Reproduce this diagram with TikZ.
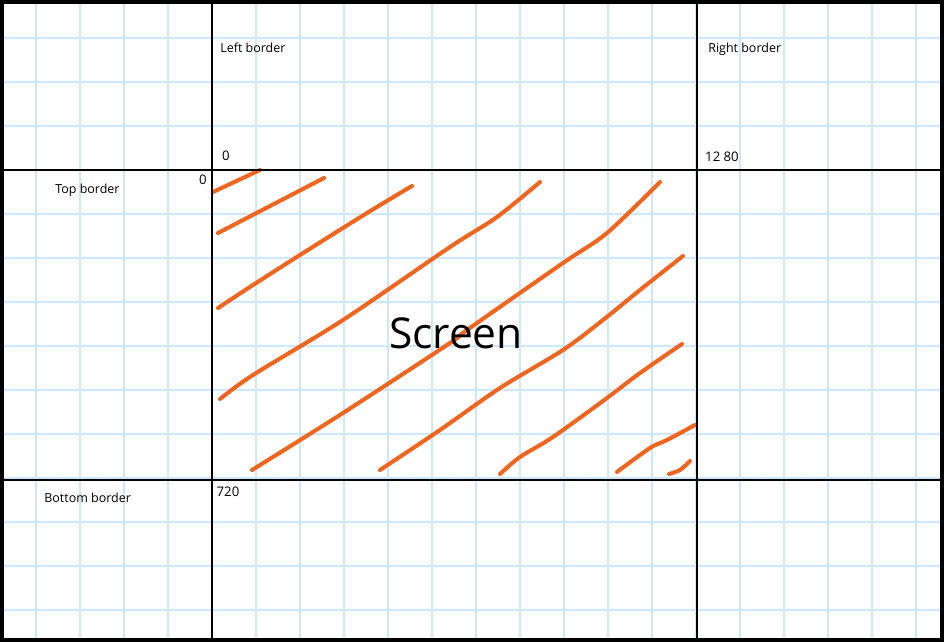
\documentclass[tikz,border=0pt]{standalone}
\usepackage{fontspec}
\setmainfont{Open Sans}
\usetikzlibrary{positioning}
\definecolor{gridblue}{RGB}{204,232,250}
\definecolor{penorange}{RGB}{242,101,30}

\begin{document}
\begin{tikzpicture}[x=0.02cm, y=-0.02cm,
  gridline/.style={draw=gridblue, line width=0.6pt},
  mainline/.style={draw=black, line width=1.7pt},
  hatch/.style={draw=penorange, line width=2.3pt, line cap=round, line join=round},
  bordertext/.style={font=\fontsize{7.1}{8}\selectfont, anchor=west, inner sep=0pt},
  digits/.style={font=\fontsize{7.5}{8}\selectfont, inner sep=0pt}
]

\useasboundingbox (0,0) rectangle (944,642);
\fill[white] (0,0) rectangle (944,642);

\foreach \x in {36,80,...,916}
  \draw[gridline] (\x,0) -- (\x,642);
\foreach \y in {38,82,...,610}
  \draw[gridline] (0,\y) -- (944,\y);

\draw[hatch] plot[smooth, tension=0.5] coordinates {(213,192) (260,170)};
\draw[hatch] plot[smooth, tension=0.5] coordinates {(218,233) (324,178)};
\draw[hatch] plot[smooth, tension=0.5] coordinates {(218,308) (253,285) (300,255) (367,213) (412,186)};
\draw[hatch] plot[smooth, tension=0.5] coordinates {(220,399) (253,375) (343,320) (450,247) (497,217) (540,182)};
\draw[hatch] plot[smooth, tension=0.5] coordinates {(252,470) (343,413) (450,343) (467,330) (563,263) (607,233) (660,182)};
\draw[hatch] plot[smooth, tension=0.5] coordinates {(380,470) (440,430) (500,388) (563,350) (603,320) (640,290) (683,256)};
\draw[hatch] plot[smooth, tension=0.5] coordinates {(500,474) (520,457) (553,437) (607,398) (640,373) (682,344)};
\draw[hatch] plot[smooth, tension=0.5] coordinates {(617,472) (650,448) (667,440) (695,425)};
\draw[hatch] plot[smooth, tension=0.5] coordinates {(669,474) (680,470) (690,461)};

\draw[mainline] (212,0) -- (212,642);
\draw[mainline] (697,0) -- (697,642);
\draw[mainline] (0,170) -- (944,170);
\draw[mainline] (0,480) -- (944,480);
\draw[black, line width=2.4pt] (2,2) rectangle (942,640);

\node[bordertext] (leftb) at (220,48) {Left border};
\node[bordertext] (rightb) at (708,49) {Right border};
\node[bordertext] (topb) at (55,190) {Top border};
\node[bordertext] (bottomb) at (44,498) {Bottom border};
\node[font=\fontsize{24.2}{28}\selectfont, inner sep=0pt, anchor=base] (screen) at (456,348) {Screen};

\node[digits] (zerox) at (226,156) {0};
\node[digits] (zeroy) at (203,180) {0};
\node[digits] (maxx) at (722,157) {12 80};
\node[digits] (maxy) at (228,492) {720};

\end{tikzpicture}
\end{document}
